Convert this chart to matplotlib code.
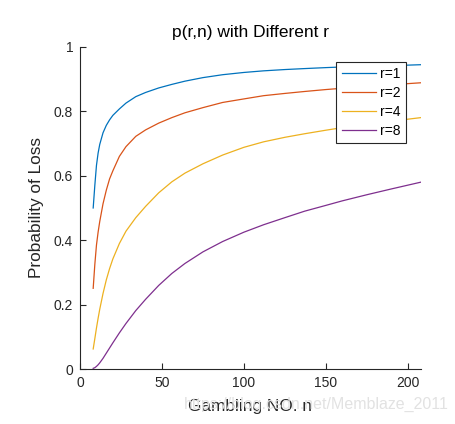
import matplotlib
matplotlib.use('Agg')
import matplotlib.pyplot as plt

plt.rcParams['font.family'] = ['Liberation Sans', 'DejaVu Sans']

n = [8, 9, 10, 11, 12, 14, 16, 18, 20, 24, 28, 34, 40, 48, 56, 64, 75, 87,
     100, 112, 125, 137, 150, 160, 175, 190, 208]

p_r1 = [0.500, 0.570, 0.632, 0.670, 0.697, 0.733, 0.756, 0.773, 0.787, 0.807,
        0.825, 0.845, 0.858, 0.872, 0.883, 0.893, 0.904, 0.913, 0.920, 0.925,
        0.929, 0.932, 0.935, 0.937, 0.939, 0.941, 0.944]
p_r2 = [0.251, 0.325, 0.385, 0.425, 0.458, 0.513, 0.555, 0.590, 0.615, 0.660,
        0.690, 0.722, 0.742, 0.763, 0.780, 0.795, 0.811, 0.827, 0.838, 0.848,
        0.855, 0.861, 0.867, 0.871, 0.876, 0.882, 0.888]
p_r4 = [0.063, 0.095, 0.128, 0.158, 0.186, 0.235, 0.277, 0.312, 0.342, 0.390,
        0.428, 0.470, 0.505, 0.547, 0.581, 0.608, 0.637, 0.664, 0.688, 0.705,
        0.719, 0.730, 0.741, 0.749, 0.759, 0.769, 0.780]
p_r8 = [0.003, 0.005, 0.009, 0.014, 0.020, 0.034, 0.050, 0.066, 0.082, 0.113,
        0.142, 0.182, 0.217, 0.260, 0.297, 0.328, 0.364, 0.396, 0.425, 0.448,
        0.470, 0.490, 0.508, 0.522, 0.541, 0.559, 0.580]

labels = ['r=1', 'r=2', 'r=4', 'r=8']
colors = ['#0072BD', '#D95319', '#EDB120', '#7E2F8E']

fig = plt.figure(figsize=(4.55, 4.24), dpi=100)
ax = fig.add_axes([0.176, 0.129, 0.749, 0.761])

for ys, lab, c in zip([p_r1, p_r2, p_r4, p_r8], labels, colors):
    ax.plot(n, ys, color=c, lw=0.9, label=lab)

ax.set_xlim(0, 208)
ax.set_ylim(0, 1)
ax.set_xticks([0, 50, 100, 150, 200])
ax.set_yticks([0, 0.2, 0.4, 0.6, 0.8, 1])
ax.set_yticklabels(['0', '0.2', '0.4', '0.6', '0.8', '1'])

grey = '#262626'
for s in ['top', 'right']:
    ax.spines[s].set_visible(False)
for s in ['left', 'bottom']:
    ax.spines[s].set_color(grey)
    ax.spines[s].set_linewidth(0.8)
ax.tick_params(direction='in', length=4, width=0.8, colors=grey, labelsize=10,
               pad=5)

# watermark from the source image, sits behind the x label
fig.text(0.695, 0.045, 'https://blog.csdn.net/Memblaze_2011', fontsize=11.5,
         color='#e2e2e2', ha='center', va='center', zorder=0)

ax.set_title('p(r,n) with Different r', fontsize=12.5, color='black', pad=7)
ax.set_xlabel('Gambling NO. n', fontsize=12.4, color=grey, labelpad=6)
ax.set_ylabel('Probability of Loss', fontsize=12.4, color=grey, labelpad=7)

leg = ax.legend(loc='upper right', bbox_to_anchor=(0.956, 0.953), fontsize=10,
                fancybox=False, framealpha=1, edgecolor=grey,
                handlelength=2.5, borderpad=0.4, labelspacing=0.35,
                handletextpad=0.25, borderaxespad=0)
leg.get_frame().set_linewidth(0.8)

fig.savefig('out.png', dpi=100)
